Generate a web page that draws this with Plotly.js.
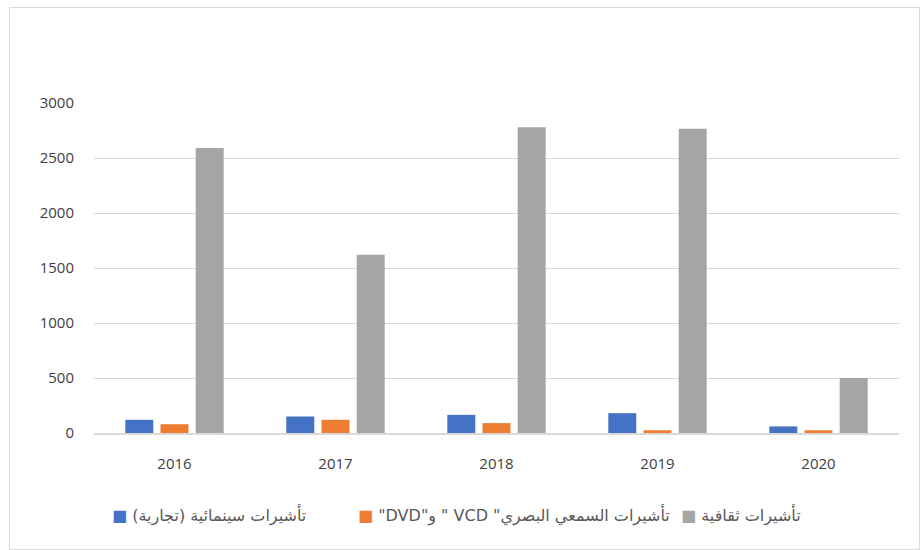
<!DOCTYPE html>
<html>
<head>
<meta charset="utf-8">
<script src="https://cdn.plot.ly/plotly-3.0.1.min.js"></script>
<style>
  html, body { margin: 0; padding: 0; background: #fff; }
  #frame { position: absolute; left: 9px; top: 7px; width: 909px; height: 541px; border: 1px solid #D9D9D9; }
  #chart { width: 909px; height: 541px; }
</style>
</head>
<body>
<div id="frame"><div id="chart"></div></div>
<script>
const years = ['2016', '2017', '2018', '2019', '2020'];
const cinemaVisas = [120, 150, 165, 180, 60];
const avVisas = [80, 120, 90, 25, 25];
const cultureVisas = [2590, 1620, 2780, 2765, 500];
const seriesNames = ['تأشيرات سينمائية (تجارية)', 'تأشيرات السمعي البصري" VCD " و"DVD"', 'تأشيرات ثقافية'];
const seriesColors = ['#4472C4', '#ED7D31', '#A5A5A5'];
const yTicks = [0, 500, 1000, 1500, 2000, 2500, 3000];

const seriesValues = [cinemaVisas, avVisas, cultureVisas];
const traces = seriesValues.map((vals, i) => ({
  type: 'bar',
  x: years,
  y: vals,
  name: seriesNames[i],
  marker: { color: seriesColors[i] },
  hoverinfo: 'x+y+name'
}));

const fontFam = 'Open Sans, DejaVu Sans, sans-serif';
// legend entries: coloured square on the left, text (right-to-left run) to its right
const legendX = [0.020, 0.326, 0.727];
const annotations = seriesNames.map((n, i) => ({
  xref: 'paper', yref: 'paper',
  x: legendX[i], y: -0.247,
  xanchor: 'left', yanchor: 'middle',
  showarrow: false,
  text: '<span style="color:' + seriesColors[i] + '">■</span> \u202B' + n + '\u202C',
  font: { family: 'DejaVu Sans, sans-serif', size: 16, color: '#595959' }
}));

const layout = {
  width: 909,
  height: 541,
  margin: { l: 84, r: 20, t: 95, b: 116 },
  paper_bgcolor: '#ffffff',
  plot_bgcolor: '#ffffff',
  barmode: 'group',
  bargap: 0.344,
  bargroupgap: 0.205,
  showlegend: false,
  font: { family: fontFam, size: 15, color: '#595959' },
  xaxis: {
    type: 'category',
    showgrid: false,
    showline: true,
    linecolor: '#D9D9D9',
    linewidth: 1.5,
    ticks: '',
    ticklabelstandoff: 16,
    tickfont: { family: fontFam, size: 15, color: '#404040' },
    fixedrange: true
  },
  yaxis: {
    range: [0, 3000],
    tickvals: yTicks,
    ticktext: yTicks.map(String),
    showgrid: true,
    gridcolor: '#D9D9D9',
    gridwidth: 1,
    zeroline: false,
    showline: false,
    ticks: '',
    ticklabelstandoff: 19,
    tickfont: { family: fontFam, size: 15, color: '#404040' },
    fixedrange: true
  },
  annotations: annotations
};

Plotly.newPlot('chart', traces, layout, { displayModeBar: false, staticPlot: true });
</script>
</body>
</html>
